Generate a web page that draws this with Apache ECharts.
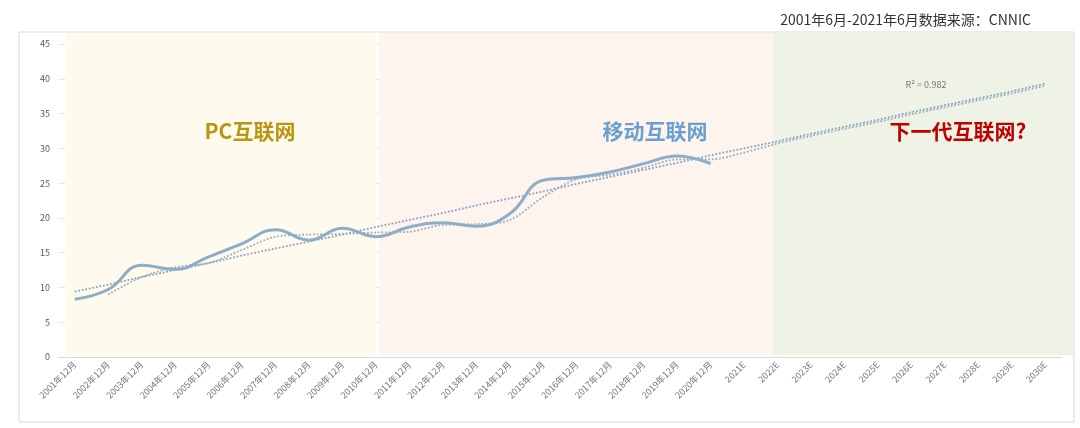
<!DOCTYPE html>
<html><head><meta charset="utf-8">
<script src="https://cdn.jsdelivr.net/npm/echarts@6/dist/echarts.min.js"></script>
<style>html,body{margin:0;padding:0;background:#fff}#c{width:1080px;height:428px}</style>
</head><body><div id="c"></div>
<script>
const categories = ['2001年12月','2002年12月','2003年12月','2004年12月','2005年12月','2006年12月','2007年12月','2008年12月','2009年12月','2010年12月','2011年12月','2012年12月','2013年12月','2014年12月','2015年12月','2016年12月','2017年12月','2018年12月','2019年12月','2020年12月','2021E','2022E','2023E','2024E','2025E','2026E','2027E','2028E','2029E','2030E'];
const actual = [8.3,9.7,13.2,12.6,14.4,16.3,18.3,16.8,18.5,17.3,18.7,19.3,18.8,20.6,25.4,25.8,26.6,27.8,28.9,27.8];
const trend = [9.4,10.4,11.5,12.5,13.5,14.6,15.6,16.6,17.6,18.7,19.7,20.7,21.8,22.8,23.8,24.9,25.9,26.9,27.9,29.0,30.0,31.0,32.1,33.1,34.1,35.2,36.2,37.2,38.2,39.3];
const movingAvg = [null,9.0,11.5,12.9,13.5,15.4,17.3,17.6,17.7,17.9,18.0,19.0,19.1,19.7,23.0,25.6,26.2,27.2,28.4,28.4,29.4,30.7,31.8,32.8,33.8,34.9,35.9,36.9,37.9,39.0];
const yTicks = {min:0, max:45, interval:5};
const eras = [
  {name:'PC互联网', from:-0.28, to:9.0, color:'#fefaee'},
  {name:'移动互联网', from:9.1, to:20.85, color:'#fdf4ee'},
  {name:'下一代互联网?', from:20.85, to:29.83, color:'#eef3e5'}
];
const titleText = '2001年6月-2021年6月数据来源：CNNIC';
const r2Text = 'R² = 0.982';

const chart = echarts.init(document.getElementById('c'));
const FONT = '"Noto Sans CJK SC","Noto Sans",sans-serif';
chart.setOption({
  animation:false,
  textStyle:{fontFamily:FONT},
  title:{text:titleText,right:44,top:8,textStyle:{fontSize:14,fontWeight:'normal',color:'#333',fontFamily:FONT}},
  grid:[
    {left:58,right:18,top:44,bottom:71},
    {left:58,right:7,top:33,bottom:73}
  ],
  xAxis:[
    {type:'category',gridIndex:0,data:categories,boundaryGap:true,
     axisLine:{lineStyle:{color:'#d9d9d9'}},axisTick:{show:false},
     axisLabel:{rotate:45,fontSize:9,color:'#777',margin:6,interval:0,fontFamily:FONT}},
    {type:'value',gridIndex:1,min:-0.5,max:29.83,show:false}
  ],
  yAxis:[
    {type:'value',gridIndex:0,min:yTicks.min,max:yTicks.max,interval:yTicks.interval,
     axisLine:{show:false},axisTick:{show:false},
     axisLabel:{fontSize:9,color:'#595959',margin:8},
     splitLine:{lineStyle:{color:'#e8e8e8'}}},
    {type:'value',gridIndex:1,min:0,max:1,show:false}
  ],
  series:[
    {type:'line',xAxisIndex:1,yAxisIndex:1,data:[],clip:false,silent:true,z:0,
     markArea:{silent:true,data:eras.map(e=>[{xAxis:e.from,itemStyle:{color:e.color}},{xAxis:e.to}])}},
    {name:'trend',type:'line',data:trend,symbol:'none',smooth:false,z:3,
     lineStyle:{color:'#88a2bd',width:1.8,type:'dotted'}},
    {name:'ma',type:'line',data:movingAvg,symbol:'none',smooth:0.3,z:3,
     lineStyle:{color:'#9aadc2',width:1.8,type:'dotted'}},
    {name:'actual',type:'line',data:actual,symbol:'none',smooth:0.45,z:4,
     lineStyle:{color:'#8eadc6',width:3}}
  ],
  graphic:[
    {type:'rect',shape:{x:19,y:32,width:1055,height:390},style:{fill:null,stroke:'#d9d9d9',lineWidth:1},z:-10,silent:true},
    {type:'text',style:{x:250,y:131,text:eras[0].name,fill:'#b8960f',font:'bold 21px '+FONT,textAlign:'center',textVerticalAlign:'middle'},z:10},
    {type:'text',style:{x:655,y:131,text:eras[1].name,fill:'#6a9fd0',font:'bold 21px '+FONT,textAlign:'center',textVerticalAlign:'middle'},z:10},
    {type:'text',style:{x:958,y:131,text:eras[2].name,fill:'#c00000',font:'bold 21px '+FONT,textAlign:'center',textVerticalAlign:'middle'},z:10},
    {type:'text',style:{x:926,y:85,text:r2Text,fill:'#777',font:'9px '+FONT,textAlign:'center',textVerticalAlign:'middle'},z:10}
  ]
});
</script></body></html>
